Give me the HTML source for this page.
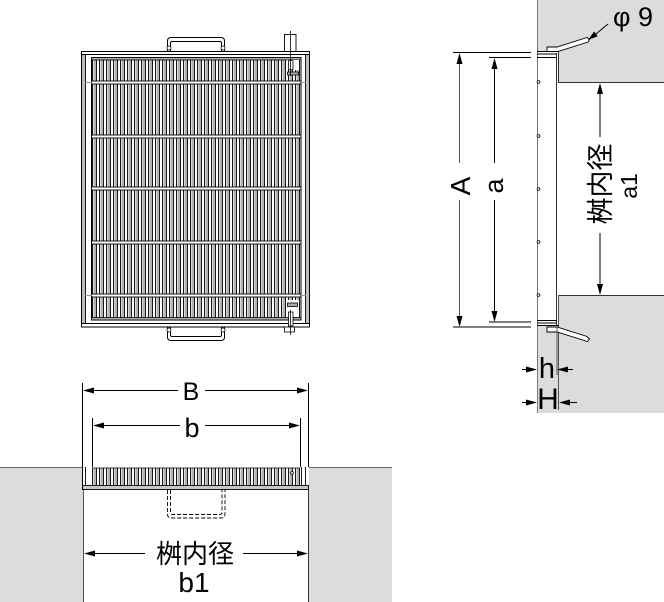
<!DOCTYPE html>
<html><head><meta charset="utf-8">
<style>
html,body{margin:0;padding:0;background:#fff;}
svg{display:block;}
text{font-family:"Liberation Sans","Noto Sans CJK JP",sans-serif;fill:#000;}
</style></head>
<body>
<svg width="664" height="602" viewBox="0 0 664 602" xmlns="http://www.w3.org/2000/svg">
<defs>
<g id="bars">
<path fill="#b2b2b2" d="M93.5 0h2.5v1h-2.5zM100.5 0h2.5v1h-2.5zM107.5 0h2.5v1h-2.5zM114.5 0h2.5v1h-2.5zM121.5 0h2.5v1h-2.5zM128.5 0h2.5v1h-2.5zM135.5 0h2.5v1h-2.5zM142.5 0h2.5v1h-2.5zM149.5 0h2.5v1h-2.5zM156.5 0h2.5v1h-2.5zM163.5 0h2.5v1h-2.5zM170.5 0h2.5v1h-2.5zM177.5 0h2.5v1h-2.5zM184.5 0h2.5v1h-2.5zM191.5 0h2.5v1h-2.5zM198.5 0h2.5v1h-2.5zM205.5 0h2.5v1h-2.5zM212.5 0h2.5v1h-2.5zM219.5 0h2.5v1h-2.5zM226.5 0h2.5v1h-2.5zM233.5 0h2.5v1h-2.5zM240.5 0h2.5v1h-2.5zM247.5 0h2.5v1h-2.5zM254.5 0h2.5v1h-2.5zM261.5 0h2.5v1h-2.5zM268.5 0h2.5v1h-2.5zM275.5 0h2.5v1h-2.5zM282.5 0h2.5v1h-2.5zM289.5 0h2.5v1h-2.5zM296.5 0h2.5v1h-2.5z"/>
<path stroke="#000" stroke-width="0.9" fill="none" d="M92.5 0V1M96.5 0V1M99.5 0V1M103.5 0V1M106.5 0V1M110.5 0V1M113.5 0V1M117.5 0V1M120.5 0V1M124.5 0V1M127.5 0V1M131.5 0V1M134.5 0V1M138.5 0V1M141.5 0V1M145.5 0V1M148.5 0V1M152.5 0V1M155.5 0V1M159.5 0V1M162.5 0V1M166.5 0V1M169.5 0V1M173.5 0V1M176.5 0V1M180.5 0V1M183.5 0V1M187.5 0V1M190.5 0V1M194.5 0V1M197.5 0V1M201.5 0V1M204.5 0V1M208.5 0V1M211.5 0V1M215.5 0V1M218.5 0V1M222.5 0V1M225.5 0V1M229.5 0V1M232.5 0V1M236.5 0V1M239.5 0V1M243.5 0V1M246.5 0V1M250.5 0V1M253.5 0V1M257.5 0V1M260.5 0V1M264.5 0V1M267.5 0V1M271.5 0V1M274.5 0V1M278.5 0V1M281.5 0V1M285.5 0V1M288.5 0V1M292.5 0V1M295.5 0V1M299.5 0V1"/>
</g>
</defs>

<!-- ============ PLAN VIEW ============ -->
<path d="M167.5 51 V41 Q167.5 37.5 171 37.5 H221 Q224.5 37.5 224.5 41 V51" fill="none" stroke="#000" stroke-width="1"/>
<path d="M170.5 51 V43 Q170.5 41.5 172 41.5 H220 Q221.5 41.5 221.5 43 V51" fill="none" stroke="#000" stroke-width="1"/>
<circle cx="169" cy="48" r="2" fill="#fff" stroke="#000" stroke-width="0.8"/>
<circle cx="223" cy="48" r="2" fill="#fff" stroke="#000" stroke-width="0.8"/>
<path d="M167.5 327 V337 Q167.5 340.5 171 340.5 H221 Q224.5 340.5 224.5 337 V327" fill="none" stroke="#000" stroke-width="1"/>
<path d="M170.5 327 V335 Q170.5 336.5 172 336.5 H220 Q221.5 336.5 221.5 335 V327" fill="none" stroke="#000" stroke-width="1"/>
<circle cx="169" cy="330" r="2" fill="#fff" stroke="#000" stroke-width="0.8"/>
<circle cx="223" cy="330" r="2" fill="#fff" stroke="#000" stroke-width="0.8"/>

<rect x="284.5" y="34.5" width="11.5" height="17" fill="#fff" stroke="#000" stroke-width="0.9"/>

<rect x="81.5" y="51.5" width="228" height="275.5" fill="#fff" stroke="#000" stroke-width="1"/>
<rect x="82" y="55" width="3" height="269" fill="#bdbdbd"/>
<rect x="306" y="55" width="3" height="269" fill="#bdbdbd"/>
<line x1="85.5" y1="54.5" x2="85.5" y2="324" stroke="#000" stroke-width="0.9"/>
<line x1="305.5" y1="54.5" x2="305.5" y2="324" stroke="#000" stroke-width="0.9"/>
<line x1="82" y1="54.5" x2="309" y2="54.5" stroke="#000" stroke-width="0.9"/>
<line x1="82" y1="323.5" x2="309" y2="323.5" stroke="#000" stroke-width="0.9"/>

<use href="#bars" transform="translate(0,58) scale(1,261)"/>
<rect x="91.5" y="57.5" width="209.5" height="262.5" fill="none" stroke="#000" stroke-width="1"/>
<rect x="91.5" y="57.5" width="209.5" height="2.5" fill="#aaa" stroke="#000" stroke-width="0.8"/>
<rect x="91.5" y="317.5" width="209.5" height="2.5" fill="#aaa" stroke="#000" stroke-width="0.8"/>
<g stroke="#000" stroke-width="0.9" fill="#fff">
<rect x="91.5" y="81" width="209.5" height="3"/>
<rect x="91.5" y="135" width="209.5" height="3"/>
<rect x="91.5" y="187" width="209.5" height="3"/>
<rect x="91.5" y="241" width="209.5" height="3"/>
<rect x="91.5" y="294" width="209.5" height="3"/>
</g>
<g stroke="#888" stroke-width="0.9">
<line x1="85" y1="82.5" x2="92" y2="82.5"/><line x1="301" y1="82.5" x2="306" y2="82.5"/>
<line x1="85" y1="295.5" x2="92" y2="295.5"/><line x1="301" y1="295.5" x2="306" y2="295.5"/>
</g>
<rect x="287" y="60" width="12" height="10" fill="#fff"/>
<rect x="288.5" y="60.5" width="4.5" height="9" fill="#fff" stroke="#000" stroke-width="0.8"/>
<rect x="287.5" y="72" width="11" height="3" fill="#aaa" stroke="#000" stroke-width="0.8"/>
<line x1="290.5" y1="31" x2="290.5" y2="76" stroke="#000" stroke-width="0.8"/>
<rect x="287" y="300" width="12" height="17" fill="#fff"/>
<rect x="287.5" y="303" width="10" height="3.5" fill="#aaa" stroke="#000" stroke-width="0.8"/>
<rect x="288.5" y="312" width="4.5" height="14" fill="#fff" stroke="#000" stroke-width="0.8"/>
<rect x="284.5" y="327" width="10" height="5" fill="#fff" stroke="#000" stroke-width="0.8"/>
<line x1="290.5" y1="310" x2="290.5" y2="335" stroke="#000" stroke-width="0.8"/>

<!-- ============ SIDE SECTION (right) ============ -->
<polygon points="537,0 664,0 664,82 559,82 559,51 537,51" fill="#dcdcdc"/>
<polygon points="537,326 559,326 559,295 664,295 664,413 537,413" fill="#dcdcdc"/>
<line x1="537.5" y1="0" x2="537.5" y2="413" stroke="#777" stroke-width="1"/>
<line x1="559" y1="82.5" x2="664" y2="82.5" stroke="#333" stroke-width="1"/>
<line x1="558.5" y1="51" x2="558.5" y2="83" stroke="#333" stroke-width="1"/>
<line x1="559" y1="295.5" x2="664" y2="295.5" stroke="#333" stroke-width="1"/>
<line x1="558.5" y1="295" x2="558.5" y2="410" stroke="#555" stroke-width="1"/>
<rect x="538" y="52" width="19" height="274" fill="#fff"/>
<line x1="556.5" y1="53" x2="556.5" y2="326" stroke="#333" stroke-width="1"/>
<g stroke="#000" stroke-width="0.9">
<line x1="537" y1="51.5" x2="559" y2="51.5"/>
<line x1="537" y1="54" x2="557" y2="54"/>
<line x1="537" y1="57.5" x2="557" y2="57.5"/>
<line x1="537" y1="320.5" x2="557" y2="320.5"/>
<line x1="537" y1="323" x2="557" y2="323"/>
<line x1="537" y1="325.5" x2="559" y2="325.5"/>
</g>
<g fill="#fff" stroke="#000" stroke-width="0.8">
<circle cx="538.5" cy="82" r="1.4"/><circle cx="538.5" cy="136" r="1.4"/>
<circle cx="538.5" cy="189" r="1.4"/><circle cx="538.5" cy="242" r="1.4"/>
<circle cx="538.5" cy="295" r="1.4"/>
</g>
<polygon points="547,47 557,47 587,37.5 589.5,39.5 588,42 558,51.5 547,51.5" fill="#fff" stroke="#000" stroke-width="0.9"/>
<polygon points="547,327 557,327 587,336.5 589.5,339 587.5,341.5 557,332 547,332" fill="#fff" stroke="#000" stroke-width="0.9"/>
<line x1="608" y1="24" x2="596" y2="34" stroke="#000" stroke-width="1"/>
<polygon points="588,40 597.7,36.3 594.1,31.5" fill="#000"/>
<text x="613" y="26" font-size="27">φ 9</text>

<g stroke="#000" stroke-width="1">
<line x1="453" y1="52.5" x2="531" y2="52.5"/>
<line x1="489" y1="57.5" x2="531" y2="57.5"/>
<line x1="453" y1="327" x2="531" y2="327"/>
<line x1="489" y1="322" x2="531" y2="322"/>
<line x1="459.5" y1="55" x2="459.5" y2="163" stroke="#555"/>
<line x1="459.5" y1="200" x2="459.5" y2="325" stroke="#555"/>
<line x1="494.5" y1="60" x2="494.5" y2="163"/>
<line x1="494.5" y1="200" x2="494.5" y2="320"/>
<line x1="600" y1="85" x2="600" y2="137"/>
<line x1="600" y1="233" x2="600" y2="293"/>
</g>
<g fill="#000">
<polygon points="459.5,53 456.5,64 462.5,64"/>
<polygon points="459.5,327 456.5,316 462.5,316"/>
<polygon points="494.5,58 491.5,69 497.5,69"/>
<polygon points="494.5,322 491.5,311 497.5,311"/>
<polygon points="600,83 597,94 603,94"/>
<polygon points="600,295 597,284 603,284"/>
</g>
<text transform="translate(470,186) rotate(-90)" text-anchor="middle" font-size="28">A</text>
<text transform="translate(503,186) rotate(-90)" text-anchor="middle" font-size="27">a</text>
<text transform="translate(610,184) rotate(-90)" text-anchor="middle" font-size="27">桝内径</text>
<text transform="translate(637,186) rotate(-90)" text-anchor="middle" font-size="23">a1</text>

<g stroke="#000" stroke-width="1">
<line x1="557" y1="326" x2="557" y2="375" stroke="#555"/>
<line x1="522" y1="369.5" x2="530" y2="369.5"/>
<line x1="564" y1="369.5" x2="573" y2="369.5"/>
<line x1="522" y1="402.5" x2="530" y2="402.5"/>
<line x1="566" y1="402.5" x2="577" y2="402.5"/>
</g>
<g fill="#000">
<polygon points="537,369.5 526,366.5 526,372.5"/>
<polygon points="557,369.5 568,366.5 568,372.5"/>
<polygon points="537,402.5 526,399.5 526,405.5"/>
<polygon points="559,402.5 570,399.5 570,405.5"/>
</g>
<text x="547" y="378" text-anchor="middle" font-size="29">h</text>
<text x="548" y="409" text-anchor="middle" font-size="30">H</text>

<!-- ============ BOTTOM SECTION ============ -->
<rect x="0" y="467" width="84" height="135" fill="#dcdcdc"/>
<rect x="308" y="467" width="84" height="135" fill="#dcdcdc"/>
<line x1="0" y1="467.5" x2="84" y2="467.5" stroke="#666" stroke-width="1"/>
<line x1="308" y1="467.5" x2="392" y2="467.5" stroke="#666" stroke-width="1"/>
<line x1="83.5" y1="467" x2="83.5" y2="602" stroke="#555" stroke-width="1"/>
<line x1="308.5" y1="467" x2="308.5" y2="602" stroke="#333" stroke-width="1"/>
<rect x="82" y="467" width="227" height="23" fill="#fff"/>
<use href="#bars" transform="translate(0,468) scale(1,17)"/>
<line x1="92" y1="468" x2="300" y2="468" stroke="#000" stroke-width="0.8"/>
<rect x="82.5" y="485.5" width="226" height="4" fill="#c8c8c8" stroke="#000" stroke-width="0.9"/>
<line x1="85.5" y1="467" x2="85.5" y2="486" stroke="#000" stroke-width="0.9"/>
<line x1="305.5" y1="467" x2="305.5" y2="486" stroke="#000" stroke-width="0.9"/>
<line x1="301.5" y1="467" x2="301.5" y2="486" stroke="#000" stroke-width="0.9"/>
<circle cx="292" cy="473" r="1.4" fill="#fff" stroke="#000" stroke-width="0.8"/>
<path d="M167.5 490 V514 Q167.5 518 171.5 518 H221 Q225 518 225 514 V490" fill="none" stroke="#000" stroke-width="0.9" stroke-dasharray="4,2"/>
<path d="M170.5 490 V512 Q170.5 514.5 173 514.5 H219.5 Q222 514.5 222 512 V490" fill="none" stroke="#000" stroke-width="0.9" stroke-dasharray="4,2"/>

<g stroke="#000" stroke-width="1">
<line x1="82.5" y1="383" x2="82.5" y2="490"/>
<line x1="308.5" y1="383" x2="308.5" y2="467"/>
<line x1="92.5" y1="418" x2="92.5" y2="467"/>
<line x1="300.5" y1="418" x2="300.5" y2="467"/>
<line x1="90" y1="390.5" x2="178" y2="390.5"/>
<line x1="205" y1="390.5" x2="300" y2="390.5"/>
<line x1="100" y1="425.5" x2="180" y2="425.5"/>
<line x1="205" y1="425.5" x2="292" y2="425.5"/>
<line x1="92" y1="553.5" x2="145" y2="553.5"/>
<line x1="243" y1="553.5" x2="300" y2="553.5"/>
</g>
<g fill="#000">
<polygon points="83,390.5 94,387.5 94,393.5"/>
<polygon points="308,390.5 297,387.5 297,393.5"/>
<polygon points="93,425.5 104,422.5 104,428.5"/>
<polygon points="300,425.5 289,422.5 289,428.5"/>
<polygon points="84,553.5 95,550.5 95,556.5"/>
<polygon points="308,553.5 297,550.5 297,556.5"/>
</g>
<text x="191" y="400" text-anchor="middle" font-size="25">B</text>
<text x="192" y="437" text-anchor="middle" font-size="27">b</text>
<text x="195" y="563" text-anchor="middle" font-size="26">桝内径</text>
<text x="194" y="592" text-anchor="middle" font-size="28">b1</text>
</svg>
</body></html>
